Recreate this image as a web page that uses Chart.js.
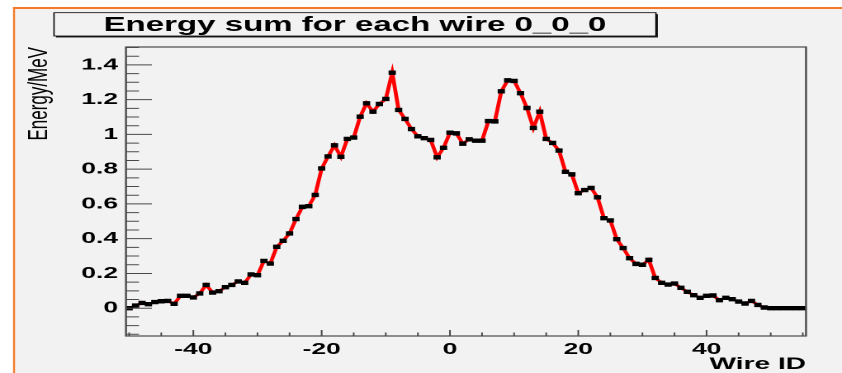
<!DOCTYPE html>
<html>
<head>
<meta charset="utf-8">
<script src="https://cdn.jsdelivr.net/npm/chart.js"></script>
<style>
  html, body { margin: 0; padding: 0; background: #fff; overflow: hidden; }
  /* the original picture is stretched sideways, so the whole chart is drawn narrow and widened */
  #wrap {
    position: absolute; left: 0; top: 0;
    width: 510px; height: 373px;
    transform: scaleX(1.65098); transform-origin: 0 0;
  }
</style>
</head>
<body>
<div id="wrap"><canvas id="energy-chart"></canvas></div>
<script>
const chartTitle = 'Energy sum for each wire 0_0_0';
const xTitle = 'Wire ID';
const yTitle = 'Energy/MeV';

const wireIds = [
    -50, -49, -48, -47, -46, -45, -44, -43, -42, -41,
    -40, -39, -38, -37, -36, -35, -34, -33, -32, -31,
    -30, -29, -28, -27, -26, -25, -24, -23, -22, -21,
    -20, -19, -18, -17, -16, -15, -14, -13, -12, -11,
    -10, -9, -8, -7, -6, -5, -4, -3, -2, -1,
    0, 1, 2, 3, 4, 5, 6, 7, 8, 9,
    10, 11, 12, 13, 14, 15, 16, 17, 18, 19,
    20, 21, 22, 23, 24, 25, 26, 27, 28, 29,
    30, 31, 32, 33, 34, 35, 36, 37, 38, 39,
    40, 41, 42, 43, 44, 45, 46, 47, 48, 49,
    50, 51, 52, 53, 54, 55
];

const energySum = [
    0.000, 0.015, 0.030, 0.023, 0.035, 0.040, 0.042, 0.025, 0.071, 0.071,
    0.062, 0.085, 0.134, 0.090, 0.098, 0.121, 0.134, 0.154, 0.146, 0.194,
    0.190, 0.272, 0.257, 0.353, 0.388, 0.430, 0.513, 0.583, 0.587, 0.652,
    0.804, 0.873, 0.937, 0.871, 0.974, 0.982, 1.102, 1.179, 1.131, 1.175,
    1.204, 1.355, 1.141, 1.089, 1.031, 0.989, 0.978, 0.968, 0.868, 0.923,
    1.010, 1.006, 0.947, 0.972, 0.964, 0.964, 1.077, 1.075, 1.248, 1.311,
    1.308, 1.237, 1.152, 1.037, 1.131, 0.974, 0.951, 0.907, 0.785, 0.770,
    0.662, 0.680, 0.692, 0.638, 0.518, 0.505, 0.397, 0.346, 0.288, 0.255,
    0.250, 0.278, 0.174, 0.146, 0.136, 0.142, 0.117, 0.094, 0.075, 0.060,
    0.071, 0.073, 0.046, 0.060, 0.052, 0.038, 0.027, 0.042, 0.019, 0.004,
    0.000, 0.000, 0.000, 0.000, 0.000, 0.000
];

const xTickValues = [-40, -20, 0, 20, 40];
const yTickValues = [0, 0.2, 0.4, 0.6, 0.8, 1, 1.2, 1.4];
const yTickLabels = ['0', '0.2', '0.4', '0.6', '0.8', '1', '1.2', '1.4'];

const FONT = '"Liberation Sans", Arial, Helvetica, sans-serif';

// ROOT style canvas: window border, title box, axis frame and inner ticks
const rootLook = {
    id: 'rootLook',
    beforeDraw(chart) {
        const ctx = chart.ctx;
        const w = chart.width, h = chart.height;
        ctx.save();
        ctx.fillStyle = '#ffffff';
        ctx.fillRect(0, 0, w, h);
        ctx.fillStyle = '#f2f2f2';
        ctx.fillRect(9, 9, w - 9, h - 9);
        ctx.fillStyle = '#f47a26';
        ctx.fillRect(7.9, 7, w, 2);
        ctx.fillRect(7.9, 7, 1.2, h);

        // title box with a small shadow
        const bx = 32.7, by = 12.7, bw = 364.6, bh = 23.3;
        ctx.fillStyle = '#222';
        ctx.fillRect(bx + 1.2, by + 1.5, bw, bh);
        ctx.fillStyle = '#f2f2f2';
        ctx.fillRect(bx, by, bw, bh);
        ctx.strokeStyle = '#000';
        ctx.lineWidth = 0.8;
        ctx.strokeRect(bx, by, bw, bh);
        ctx.fillStyle = '#000';
        ctx.font = 'bold 20px ' + FONT;
        ctx.textAlign = 'center';
        ctx.textBaseline = 'middle';
        ctx.fillText(chartTitle, bx + bw / 2, by + bh / 2 + 1);
        ctx.restore();
    },
    afterDraw(chart) {
        const ctx = chart.ctx;
        const a = chart.chartArea;
        const xs = chart.scales.x, ys = chart.scales.y;
        ctx.save();
        ctx.strokeStyle = '#4a4a4a';
        ctx.lineWidth = 1;
        ctx.beginPath();
        for (let v = -50; v <= 55; v += 5) {
            const px = xs.getPixelForValue(v);
            const len = v % 20 === 0 ? 6 : 3.5;
            ctx.moveTo(px, a.bottom);
            ctx.lineTo(px, a.bottom - len);
        }
        for (let i = -3; i <= 30; i++) {
            const py = ys.getPixelForValue(i * 0.05);
            const len = i % 4 === 0 ? 15.7 : 7.9;
            ctx.moveTo(a.left, py);
            ctx.lineTo(a.left + len, py);
        }
        ctx.stroke();
        ctx.lineWidth = 1.2;
        ctx.strokeRect(a.left, a.top, a.right - a.left, a.bottom - a.top);
        ctx.restore();
    }
};

document.addEventListener('DOMContentLoaded', function() {
    const ctx = document.getElementById('energy-chart').getContext('2d');

    new Chart(ctx, {
        type: 'line',
        data: {
            datasets: [{
                label: 'Energy sum',
                data: wireIds.map((id, i) => ({ x: id, y: energySum[i] })),
                borderColor: '#ff0000',
                borderWidth: 2.4,
                tension: 0,
                pointStyle: 'rect',
                pointRadius: 2.4,
                pointBorderWidth: 1,
                pointBackgroundColor: '#000',
                pointBorderColor: '#000'
            }]
        },
        options: {
            responsive: true,
            maintainAspectRatio: false,
            animation: false,
            devicePixelRatio: 2,
            layout: { padding: { left: 0, top: 47, right: 21.8, bottom: 0 } },
            plugins: {
                legend: { display: false },
                tooltip: { enabled: false }
            },
            scales: {
                x: {
                    type: 'linear',
                    min: -50.5,
                    max: 55.5,
                    afterBuildTicks: scale => {
                        scale.ticks = xTickValues.map(v => ({ value: v }));
                    },
                    afterFit: scale => { scale.height = 37; },
                    grid: { display: false, drawTicks: false },
                    border: { display: false },
                    ticks: {
                        autoSkip: false,
                        maxRotation: 0,
                        padding: 4,
                        color: '#000',
                        font: { family: FONT, size: 16, weight: 'bold' },
                        callback: value => String(value)
                    },
                    title: {
                        display: true,
                        text: xTitle,
                        align: 'end',
                        color: '#000',
                        padding: { top: 0, bottom: 0 },
                        font: { family: FONT, size: 17, weight: 'bold', lineHeight: 1.0 }
                    }
                },
                y: {
                    min: -0.16,
                    max: 1.503,
                    afterBuildTicks: scale => {
                        scale.ticks = yTickValues.map(v => ({ value: v }));
                    },
                    afterFit: scale => { scale.width = 76.3; },
                    grid: { display: false, drawTicks: false },
                    border: { display: false },
                    ticks: {
                        padding: 4.8,
                        color: '#000',
                        font: { family: FONT, size: 16, weight: 'bold' },
                        callback: (value, index) => yTickLabels[index]
                    },
                    title: {
                        display: true,
                        text: yTitle,
                        align: 'end',
                        color: '#000',
                        padding: { top: 13.5, bottom: 0 },
                        font: { family: FONT, size: 17 }
                    }
                }
            }
        },
        plugins: [rootLook]
    });
});
</script>
</body>
</html>
